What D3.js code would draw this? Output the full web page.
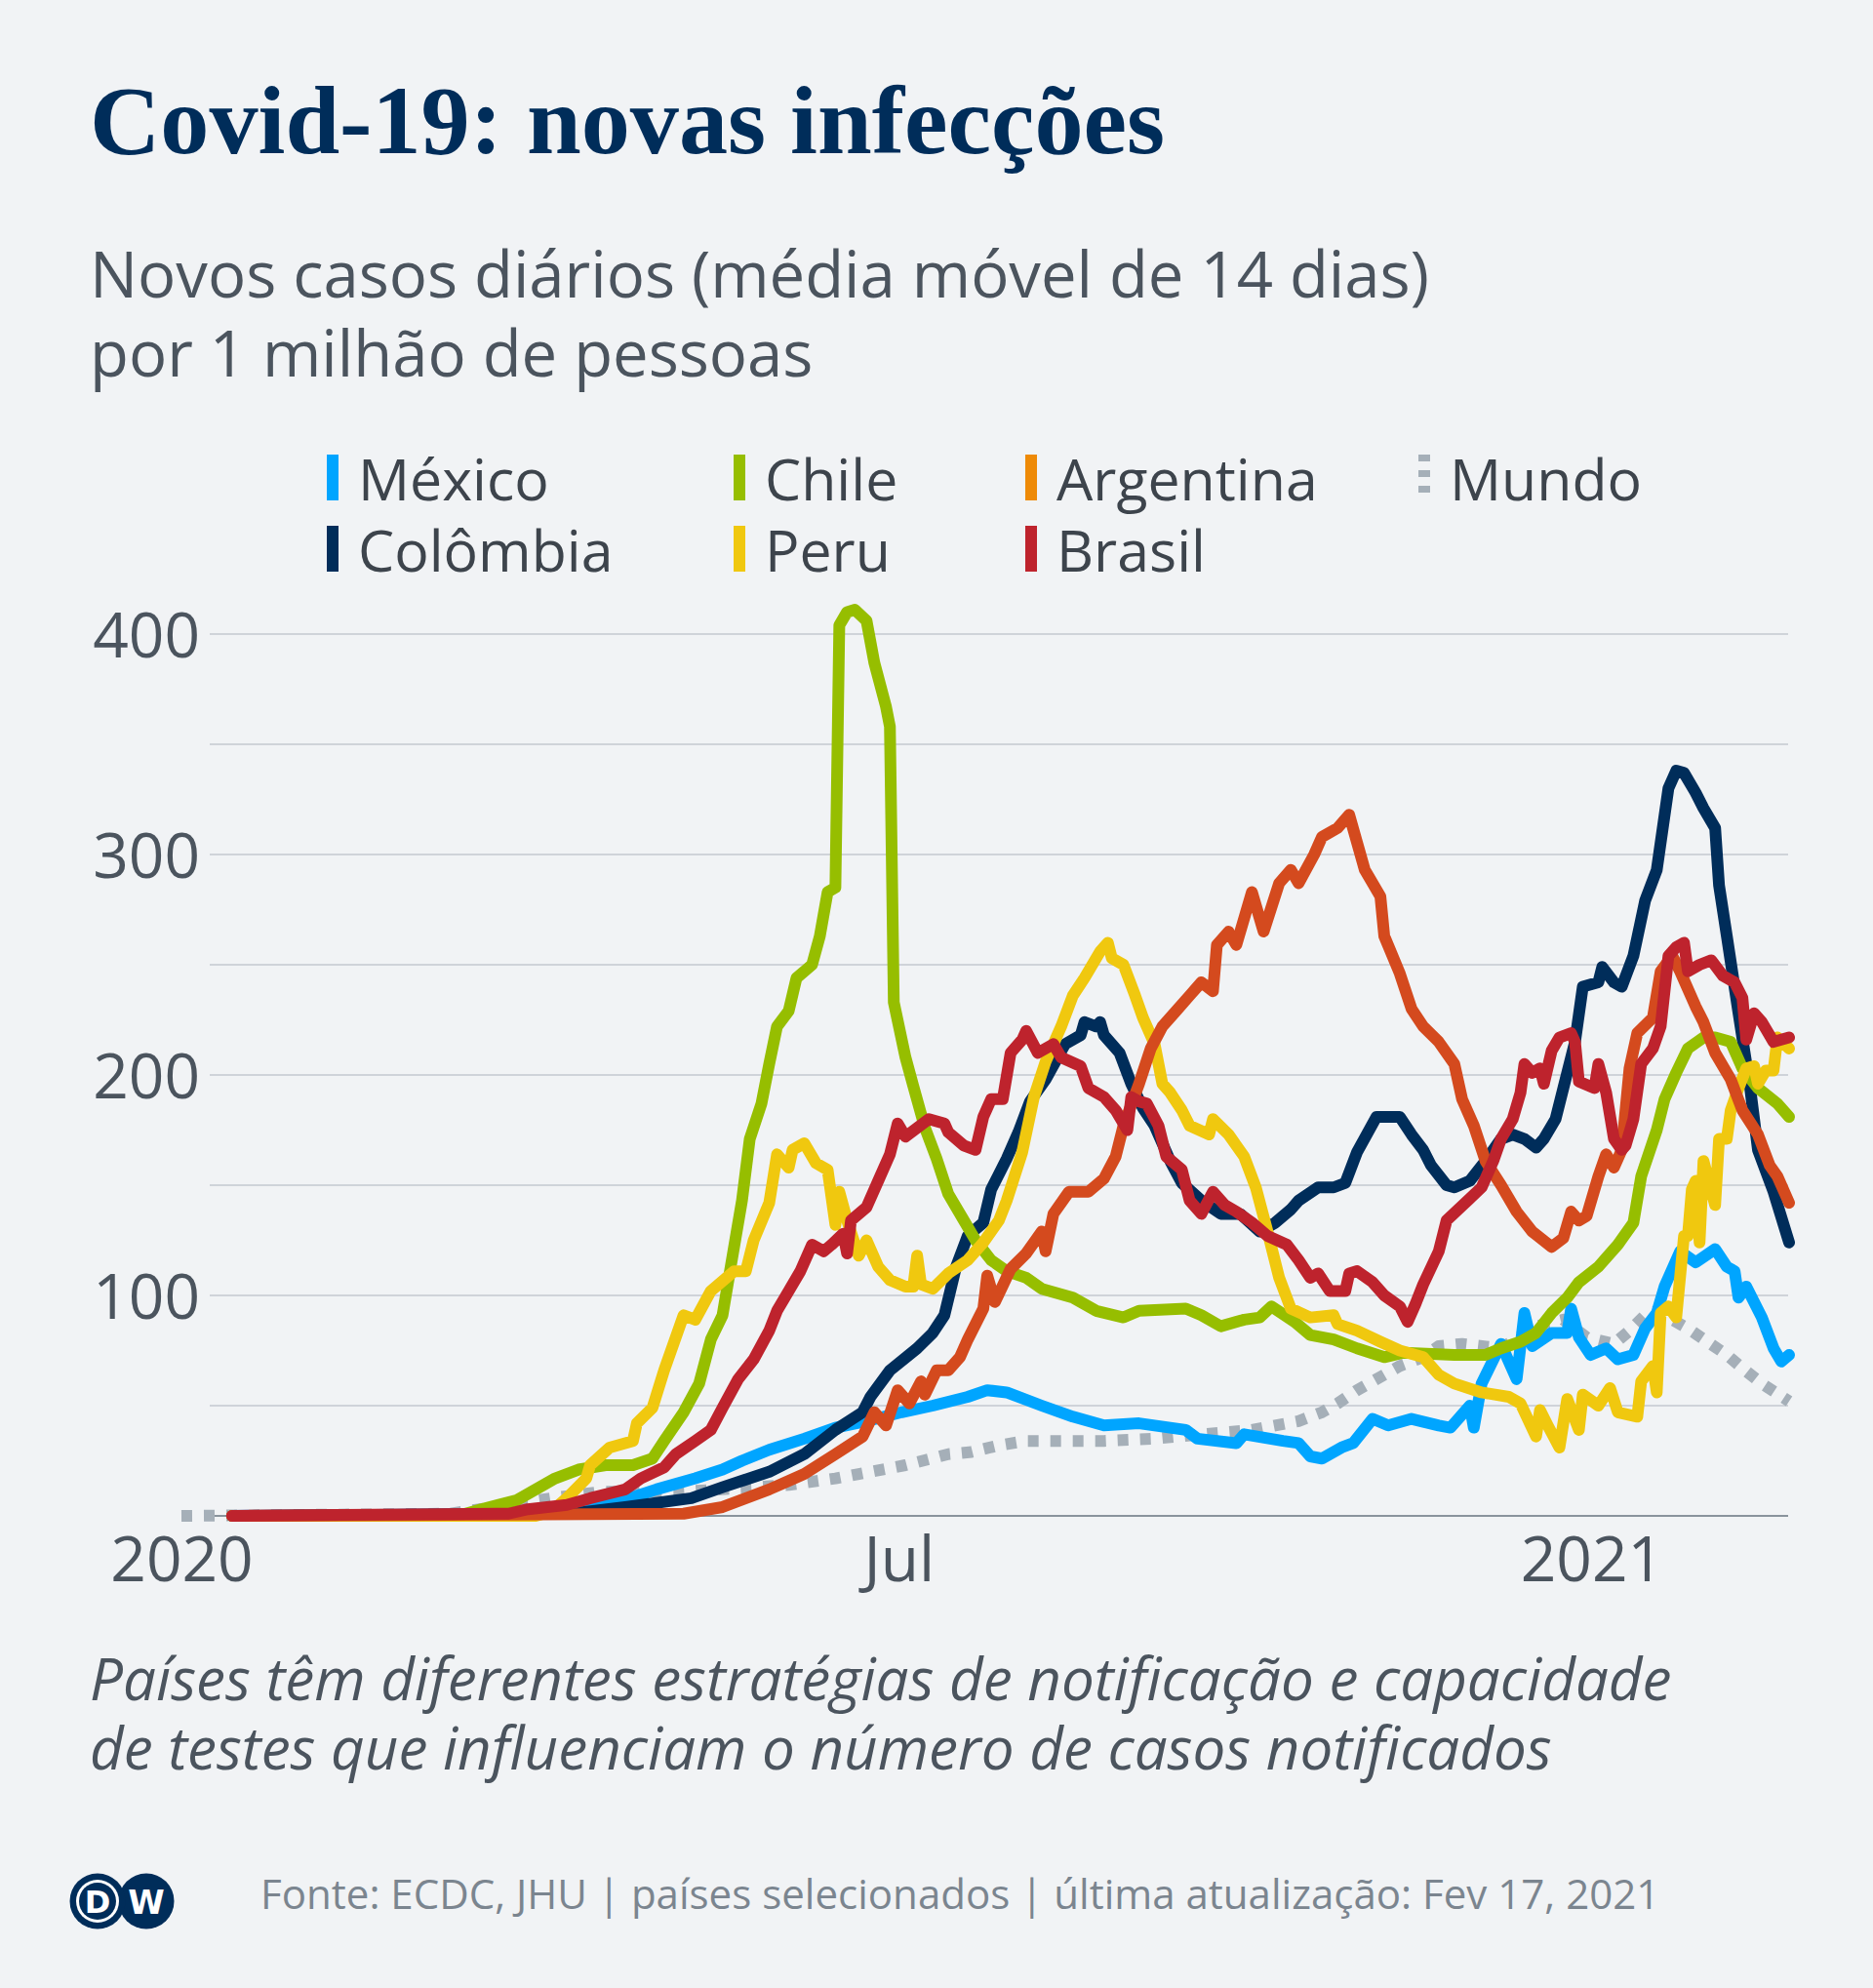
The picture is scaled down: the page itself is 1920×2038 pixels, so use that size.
<!DOCTYPE html>
<html><head><meta charset="utf-8">
<script src="https://cdn.jsdelivr.net/npm/d3@7"></script>
<style>
html,body{margin:0;padding:0;background:#f1f3f5;}
svg{display:block}
</style></head><body>
<svg id="chart" width="1920" height="2038"></svg>
<script>
// ---------- DATA ----------
const titleText = "Covid-19: novas infecções";
const subtitleLines = ["Novos casos diários (média móvel de 14 dias)", "por 1 milhão de pessoas"];
const noteLines = ["Países têm diferentes estratégias de notificação e capacidade", "de testes que influenciam o número de casos notificados"];
const sourceText = "Fonte: ECDC, JHU | países selecionados | última atualização: Fev 17, 2021";

const xTickDates = ["2020-01-01", "2020-07-01", "2021-01-01"];
const xTickLabels = ["2020", "Jul", "2021"];
const yGridValues = [50, 100, 150, 200, 250, 300, 350, 400];
const yLabelValues = [100, 200, 300, 400];

const seriesNames = ["Mundo", "México", "Colômbia", "Chile", "Peru", "Argentina", "Brasil"];

const mundo = [["2020-01-01",0],["2020-03-10",1],["2020-03-25",5],["2020-04-05",8],["2020-04-18",11],["2020-05-09",11],["2020-06-05",14],["2020-06-17",17],["2020-06-23",19],["2020-07-05",23],["2020-07-16",28],["2020-07-22",29],["2020-07-29",32],["2020-08-05",34],["2020-08-13",34],["2020-08-25",34],["2020-09-07",35],["2020-09-19",37],["2020-10-02",39],["2020-10-14",43],["2020-10-20",47],["2020-10-24",51],["2020-10-29",57],["2020-11-05",64],["2020-11-09",68],["2020-11-15",72],["2020-11-19",77],["2020-11-25",78],["2020-12-05",76],["2020-12-14",86],["2020-12-21",89],["2020-12-27",81],["2021-01-03",78],["2021-01-07",84],["2021-01-11",91],["2021-01-14",93],["2021-01-22",85],["2021-01-27",79],["2021-02-01",73],["2021-02-05",67],["2021-02-10",60],["2021-02-17",52]];

const mexico = [["2020-01-14",0],["2020-04-01",1],["2020-04-20",5],["2020-05-02",12],["2020-05-12",17],["2020-05-19",21],["2020-05-24",25],["2020-05-31",30],["2020-06-09",35],["2020-06-17",40],["2020-06-25",43],["2020-07-04",47],["2020-07-12",50],["2020-07-21",54],["2020-07-26",57],["2020-07-31",56],["2020-08-09",50],["2020-08-17",45],["2020-08-25",41],["2020-09-03",42],["2020-09-11",40],["2020-09-15",39],["2020-09-18",35],["2020-09-28",33],["2020-09-30",37],["2020-10-10",34],["2020-10-14",33],["2020-10-17",27],["2020-10-20",26],["2020-10-25",31],["2020-10-28",33],["2020-11-02",44],["2020-11-06",41],["2020-11-12",44],["2020-11-19",41],["2020-11-22",40],["2020-11-27",50],["2020-11-28",40],["2020-11-30",60],["2020-12-05",78],["2020-12-09",62],["2020-12-11",92],["2020-12-13",77],["2020-12-18",83],["2020-12-22",83],["2020-12-23",94],["2020-12-25",81],["2020-12-28",73],["2021-01-01",76],["2021-01-04",71],["2021-01-08",73],["2021-01-11",85],["2021-01-14",92],["2021-01-16",104],["2021-01-20",120],["2021-01-24",115],["2021-01-29",121],["2021-02-01",113],["2021-02-03",111],["2021-02-04",99],["2021-02-06",104],["2021-02-10",90],["2021-02-13",76],["2021-02-15",70],["2021-02-17",73]];

const colombia = [["2020-01-14",0],["2020-04-10",1],["2020-04-24",4],["2020-05-11",8],["2020-05-19",13],["2020-05-31",20],["2020-06-09",28],["2020-06-17",39],["2020-06-24",47],["2020-06-26",54],["2020-07-01",66],["2020-07-08",76],["2020-07-12",83],["2020-07-15",91],["2020-07-18",113],["2020-07-21",127],["2020-07-25",133],["2020-07-27",148],["2020-07-31",162],["2020-08-03",174],["2020-08-06",188],["2020-08-10",198],["2020-08-15",214],["2020-08-19",218],["2020-08-20",224],["2020-08-23",222],["2020-08-24",224],["2020-08-25",218],["2020-08-29",210],["2020-09-01",196],["2020-09-04",185],["2020-09-07",177],["2020-09-11",161],["2020-09-14",151],["2020-09-19",143],["2020-09-24",137],["2020-09-29",137],["2020-10-04",129],["2020-10-08",133],["2020-10-12",139],["2020-10-14",143],["2020-10-19",149],["2020-10-23",149],["2020-10-26",151],["2020-10-29",165],["2020-11-03",181],["2020-11-09",181],["2020-11-12",173],["2020-11-15",166],["2020-11-17",159],["2020-11-21",150],["2020-11-23",149],["2020-11-27",152],["2020-12-01",161],["2020-12-05",171],["2020-12-08",173],["2020-12-11",171],["2020-12-14",167],["2020-12-16",171],["2020-12-19",180],["2020-12-21",194],["2020-12-24",215],["2020-12-26",240],["2020-12-30",242],["2020-12-31",249],["2021-01-03",242],["2021-01-05",240],["2021-01-08",254],["2021-01-11",279],["2021-01-14",293],["2021-01-17",330],["2021-01-19",338],["2021-01-21",337],["2021-01-24",328],["2021-01-26",321],["2021-01-29",312],["2021-01-30",286],["2021-02-01",263],["2021-02-04",228],["2021-02-07",194],["2021-02-09",166],["2021-02-13",147],["2021-02-17",124]];

const chile = [["2020-01-14",0],["2020-03-12",0],["2020-03-18",3],["2020-03-27",7],["2020-04-06",17],["2020-04-12",21],["2020-04-19",23],["2020-04-26",23],["2020-05-01",26],["2020-05-04",34],["2020-05-09",47],["2020-05-13",60],["2020-05-16",80],["2020-05-19",91],["2020-05-21",112],["2020-05-24",143],["2020-05-26",171],["2020-05-29",187],["2020-05-31",205],["2020-06-02",222],["2020-06-05",229],["2020-06-07",244],["2020-06-11",250],["2020-06-13",263],["2020-06-15",283],["2020-06-17",285],["2020-06-18",404],["2020-06-20",410],["2020-06-22",411],["2020-06-25",406],["2020-06-27",387],["2020-06-30",367],["2020-07-01",358],["2020-07-02",233],["2020-07-05",208],["2020-07-07",195],["2020-07-10",176],["2020-07-13",162],["2020-07-16",146],["2020-07-20",134],["2020-07-23",125],["2020-07-27",116],["2020-07-31",111],["2020-08-05",108],["2020-08-09",103],["2020-08-17",99],["2020-08-23",93],["2020-08-30",90],["2020-09-03",93],["2020-09-15",94],["2020-09-19",91],["2020-09-24",86],["2020-09-30",89],["2020-10-04",90],["2020-10-07",95],["2020-10-13",88],["2020-10-17",82],["2020-10-23",80],["2020-10-29",76],["2020-11-05",72],["2020-11-10",74],["2020-11-23",73],["2020-12-01",73],["2020-12-05",76],["2020-12-10",79],["2020-12-14",83],["2020-12-18",92],["2020-12-22",99],["2020-12-25",106],["2020-12-30",113],["2021-01-04",123],["2021-01-08",133],["2021-01-10",154],["2021-01-14",175],["2021-01-16",189],["2021-01-19",201],["2021-01-22",212],["2021-01-26",217],["2021-01-29",217],["2021-02-02",215],["2021-02-05",203],["2021-02-09",194],["2021-02-14",187],["2021-02-17",181]];

const peru = [["2020-01-14",0],["2020-04-01",0],["2020-04-05",2],["2020-04-09",8],["2020-04-14",17],["2020-04-15",23],["2020-04-20",31],["2020-04-26",34],["2020-04-27",42],["2020-05-01",49],["2020-05-04",66],["2020-05-09",91],["2020-05-12",89],["2020-05-16",102],["2020-05-22",111],["2020-05-25",111],["2020-05-27",125],["2020-05-31",142],["2020-06-02",164],["2020-06-05",158],["2020-06-06",166],["2020-06-09",169],["2020-06-12",160],["2020-06-15",157],["2020-06-17",132],["2020-06-18",147],["2020-06-20",134],["2020-06-23",118],["2020-06-25",125],["2020-06-28",113],["2020-07-01",107],["2020-07-05",104],["2020-07-07",104],["2020-07-08",118],["2020-07-09",105],["2020-07-12",103],["2020-07-16",110],["2020-07-21",116],["2020-07-25",124],["2020-07-29",134],["2020-07-31",143],["2020-08-04",165],["2020-08-07",190],["2020-08-10",206],["2020-08-14",222],["2020-08-17",236],["2020-08-20",244],["2020-08-24",256],["2020-08-26",260],["2020-08-27",253],["2020-08-30",250],["2020-09-02",236],["2020-09-04",226],["2020-09-07",214],["2020-09-09",196],["2020-09-11",192],["2020-09-14",184],["2020-09-16",177],["2020-09-21",173],["2020-09-22",180],["2020-09-26",173],["2020-09-30",163],["2020-10-03",149],["2020-10-06",129],["2020-10-09",108],["2020-10-12",94],["2020-10-17",90],["2020-10-23",91],["2020-10-24",87],["2020-10-29",84],["2020-11-04",79],["2020-11-09",75],["2020-11-15",72],["2020-11-19",64],["2020-11-23",60],["2020-11-30",56],["2020-12-07",54],["2020-12-10",51],["2020-12-14",36],["2020-12-15",48],["2020-12-17",41],["2020-12-20",31],["2020-12-22",53],["2020-12-25",39],["2020-12-26",55],["2020-12-30",50],["2021-01-02",58],["2021-01-04",47],["2021-01-09",45],["2021-01-10",61],["2021-01-13",68],["2021-01-14",56],["2021-01-15",92],["2021-01-17",95],["2021-01-19",90],["2021-01-21",127],["2021-01-22",127],["2021-01-23",148],["2021-01-24",152],["2021-01-25",124],["2021-01-26",161],["2021-01-29",141],["2021-01-30",171],["2021-02-01",171],["2021-02-02",184],["2021-02-04",194],["2021-02-06",203],["2021-02-08",204],["2021-02-09",196],["2021-02-11",202],["2021-02-13",202],["2021-02-14",217],["2021-02-17",212]];

const argentina = [["2020-01-14",0],["2020-05-09",1],["2020-05-19",4],["2020-05-31",12],["2020-06-09",19],["2020-06-17",28],["2020-06-24",36],["2020-06-27",47],["2020-06-30",41],["2020-07-03",57],["2020-07-06",51],["2020-07-09",61],["2020-07-10",55],["2020-07-13",66],["2020-07-16",66],["2020-07-19",72],["2020-07-21",80],["2020-07-25",94],["2020-07-26",109],["2020-07-28",97],["2020-08-01",112],["2020-08-05",119],["2020-08-09",129],["2020-08-10",120],["2020-08-12",137],["2020-08-16",147],["2020-08-21",147],["2020-08-25",153],["2020-08-28",163],["2020-08-30",177],["2020-09-03",196],["2020-09-06",212],["2020-09-09",222],["2020-09-13",230],["2020-09-16",236],["2020-09-19",242],["2020-09-22",238],["2020-09-23",259],["2020-09-26",265],["2020-09-28",259],["2020-10-02",283],["2020-10-05",265],["2020-10-09",287],["2020-10-12",293],["2020-10-14",287],["2020-10-18",300],["2020-10-20",308],["2020-10-24",312],["2020-10-27",318],["2020-10-31",293],["2020-11-04",281],["2020-11-05",263],["2020-11-09",246],["2020-11-12",230],["2020-11-15",222],["2020-11-19",215],["2020-11-23",205],["2020-11-25",189],["2020-11-28",177],["2020-12-01",161],["2020-12-05",150],["2020-12-09",138],["2020-12-13",129],["2020-12-18",122],["2020-12-21",126],["2020-12-23",138],["2020-12-25",134],["2020-12-27",136],["2020-12-30",154],["2021-01-01",164],["2021-01-03",158],["2021-01-05",166],["2021-01-07",203],["2021-01-09",219],["2021-01-13",226],["2021-01-15",247],["2021-01-18",254],["2021-01-20",247],["2021-01-24",231],["2021-01-26",224],["2021-01-29",210],["2021-02-02",198],["2021-02-05",184],["2021-02-09",173],["2021-02-12",159],["2021-02-14",154],["2021-02-17",142]];

const brasil = [["2020-01-14",0],["2020-03-25",1],["2020-03-30",3],["2020-04-09",5],["2020-04-15",8],["2020-04-24",12],["2020-04-28",17],["2020-05-04",22],["2020-05-07",28],["2020-05-12",34],["2020-05-16",39],["2020-05-19",49],["2020-05-23",62],["2020-05-27",71],["2020-05-31",84],["2020-06-02",93],["2020-06-05",102],["2020-06-08",111],["2020-06-11",123],["2020-06-14",120],["2020-06-16",123],["2020-06-19",128],["2020-06-20",119],["2020-06-21",134],["2020-06-25",140],["2020-06-28",152],["2020-07-01",164],["2020-07-03",178],["2020-07-05",172],["2020-07-08",176],["2020-07-11",180],["2020-07-15",178],["2020-07-16",174],["2020-07-20",168],["2020-07-23",166],["2020-07-25",181],["2020-07-27",189],["2020-07-30",189],["2020-08-01",210],["2020-08-04",216],["2020-08-05",220],["2020-08-08",210],["2020-08-12",214],["2020-08-14",208],["2020-08-19",204],["2020-08-21",194],["2020-08-25",190],["2020-08-28",184],["2020-08-31",175],["2020-09-01",190],["2020-09-03",188],["2020-09-05",187],["2020-09-08",177],["2020-09-10",163],["2020-09-14",157],["2020-09-16",143],["2020-09-19",137],["2020-09-22",147],["2020-09-25",141],["2020-09-28",138],["2020-10-02",133],["2020-10-06",127],["2020-10-11",123],["2020-10-14",116],["2020-10-17",108],["2020-10-19",110],["2020-10-22",102],["2020-10-26",102],["2020-10-27",110],["2020-10-29",111],["2020-11-02",106],["2020-11-05",100],["2020-11-09",95],["2020-11-11",88],["2020-11-13",96],["2020-11-15",105],["2020-11-19",120],["2020-11-21",134],["2020-11-24",139],["2020-11-27",144],["2020-11-30",149],["2020-12-03",161],["2020-12-05",171],["2020-12-08",180],["2020-12-10",192],["2020-12-11",205],["2020-12-13",201],["2020-12-15",203],["2020-12-16",196],["2020-12-18",211],["2020-12-20",217],["2020-12-23",219],["2020-12-24",215],["2020-12-25",197],["2020-12-29",194],["2020-12-30",205],["2021-01-01",192],["2021-01-03",171],["2021-01-05",166],["2021-01-06",168],["2021-01-08",180],["2021-01-10",205],["2021-01-13",212],["2021-01-15",222],["2021-01-17",254],["2021-01-19",258],["2021-01-21",260],["2021-01-22",247],["2021-01-25",250],["2021-01-28",252],["2021-01-31",245],["2021-02-03",242],["2021-02-05",235],["2021-02-06",216],["2021-02-08",228],["2021-02-10",224],["2021-02-13",215],["2021-02-15",216],["2021-02-17",217]];

const seriesValues = [mundo, mexico, colombia, chile, peru, argentina, brasil];
const seriesColors = ["#a5afb8", "#00a5ff", "#002d5a", "#96be00", "#f0c80f", "#d44a1e", "#be232d"];

// legend (column-wise order as in the picture)
const legendNames = ["México", "Colômbia", "Chile", "Peru", "Argentina", "Brasil", "Mundo"];
const legendColors = ["#00a5ff", "#002d5a", "#96be00", "#f0c80f", "#ee8a07", "#be232d", "#a5afb8"];

// ---------- DRAWING ----------
const svg = d3.select("#chart");
svg.append("rect").attr("width", 1920).attr("height", 2038).attr("fill", "#f1f3f5");

const parse = d3.timeParse("%Y-%m-%d");
const plotLeft = 215, plotRight = 1833;
const x = d3.scaleTime()
  .domain([parse("2020-01-01"), parse("2021-02-17")])
  .range([186, 1834]);
const y = d3.scaleLinear().domain([0, 400]).range([1554, 650]);

function fitWidth(sel, target) {
  const w = sel.node().getComputedTextLength();
  const fs = parseFloat(sel.style("font-size"));
  const nfs = fs * target / w;
  sel.style("font-size", nfs + "px");
  return nfs;
}

// title
const title = svg.append("text").attr("x", 92).attr("y", 157)
  .style("font-family", "'Liberation Serif', serif").style("font-weight", "700")
  .style("font-size", "98px").attr("fill", "#002d5a").text(titleText);
fitWidth(title, 1102);

// subtitle
const sub1 = svg.append("text").attr("x", 92).attr("y", 305)
  .style("font-family", "'Open Sans', sans-serif").style("font-size", "54px")
  .attr("fill", "#4b545e").text(subtitleLines[0]);
const subFs = fitWidth(sub1, 1373);
svg.append("text").attr("x", 92).attr("y", 386)
  .style("font-family", "'Open Sans', sans-serif").style("font-size", subFs + "px")
  .attr("fill", "#4b545e").text(subtitleLines[1]);

// legend
const legColX = [335, 752, 1051, 1454];
const legRowY = [513, 586];
const leg = svg.append("g");
legendNames.forEach((name, i) => {
  const col = Math.floor(i / 2), row = i % 2;
  const gx = legColX[col], gy = legRowY[row];
  const g = leg.append("g");
  if (name === "Mundo") {
    g.append("line").attr("x1", gx + 6).attr("x2", gx + 6).attr("y1", gy - 47).attr("y2", gy)
      .attr("stroke", legendColors[i]).attr("stroke-width", 12).attr("stroke-dasharray", "7,9");
  } else {
    g.append("rect").attr("x", gx).attr("y", gy - 47).attr("width", 12).attr("height", 47)
      .attr("fill", legendColors[i]);
  }
  g.append("text").attr("x", gx + 32).attr("y", gy)
    .style("font-family", "'Open Sans', sans-serif").style("font-size", "59px")
    .attr("fill", "#3d444c").text(name);
});

// gridlines
svg.append("g").selectAll("line").data(yGridValues).join("line")
  .attr("x1", plotLeft).attr("x2", plotRight)
  .attr("y1", d => y(d)).attr("y2", d => y(d))
  .attr("stroke", "#c3c8cf").attr("stroke-width", 1.6);

// y labels via axis
const yAxis = svg.append("g").attr("transform", "translate(205,0)")
  .call(d3.axisLeft(y).tickValues(yLabelValues).tickSize(0).tickPadding(0));
yAxis.select(".domain").remove();
yAxis.selectAll("text")
  .style("font-family", "'Open Sans', sans-serif").style("font-size", "64px")
  .attr("fill", "#4b545e").attr("dy", "0.36em");

// lines
const line = d3.line().x(d => x(parse(d[0]))).y(d => y(d[1]));
const linesG = svg.append("g");
seriesValues.forEach((vals, i) => {
  const p = linesG.append("path").datum(vals).attr("d", line)
    .attr("fill", "none").attr("stroke", seriesColors[i])
    .attr("stroke-width", 12).attr("stroke-linejoin", "round");
  if (seriesNames[i] === "Mundo") {
    p.attr("stroke-dasharray", "11,12").attr("stroke-linecap", "butt");
  } else {
    p.attr("stroke-linecap", "round");
  }
});

// baseline (0)
svg.append("line").attr("x1", plotLeft).attr("x2", plotRight)
  .attr("y1", y(0)).attr("y2", y(0))
  .attr("stroke", "#8a939c").attr("stroke-width", 2).lower();
svg.select("rect").lower();

// x axis
const labelNudge = [0, 9, -15];
const xAxis = svg.append("g").attr("transform", `translate(0,${y(0)})`)
  .call(d3.axisBottom(x).tickValues(xTickDates.map(parse))
    .tickFormat((d, i) => xTickLabels[i]).tickSize(0).tickPadding(22));
xAxis.select(".domain").remove();
xAxis.selectAll("text")
  .style("font-family", "'Open Sans', sans-serif").style("font-size", "64px")
  .attr("fill", "#4b545e").attr("dx", (d, i) => labelNudge[i]);

// note
const note1 = svg.append("text").attr("x", 92).attr("y", 1743)
  .style("font-family", "'Open Sans', sans-serif").style("font-style", "italic")
  .style("font-size", "52px").attr("fill", "#4b545e").text(noteLines[0]);
const noteFs = fitWidth(note1, 1622);
svg.append("text").attr("x", 92).attr("y", 1814)
  .style("font-family", "'Open Sans', sans-serif").style("font-style", "italic")
  .style("font-size", noteFs + "px").attr("fill", "#4b545e").text(noteLines[1]);

// source
const src = svg.append("text").attr("x", 267).attr("y", 1957)
  .style("font-family", "'Open Sans', sans-serif").style("font-size", "40px")
  .attr("fill", "#7b858f").text(sourceText);
fitWidth(src, 1435);

// DW logo
const logo = svg.append("g");
logo.append("circle").attr("cx", 150).attr("cy", 1949).attr("r", 28.5).attr("fill", "#002d5a");
logo.append("text").attr("x", 150).attr("y", 1962).attr("text-anchor", "middle")
  .style("font-family", "'DejaVu Sans', sans-serif").style("font-weight", "700")
  .style("font-size", "34px").attr("fill", "#ffffff").text("W");
logo.append("circle").attr("cx", 100).attr("cy", 1949).attr("r", 28.5).attr("fill", "#002d5a");
logo.append("circle").attr("cx", 100).attr("cy", 1949).attr("r", 22).attr("fill", "#ffffff");
logo.append("circle").attr("cx", 100).attr("cy", 1949).attr("r", 19).attr("fill", "#002d5a");
logo.append("text").attr("x", 100).attr("y", 1961).attr("text-anchor", "middle")
  .style("font-family", "'DejaVu Sans', sans-serif").style("font-weight", "700")
  .style("font-size", "32px").attr("fill", "#ffffff").text("D");
</script>
</body></html>
